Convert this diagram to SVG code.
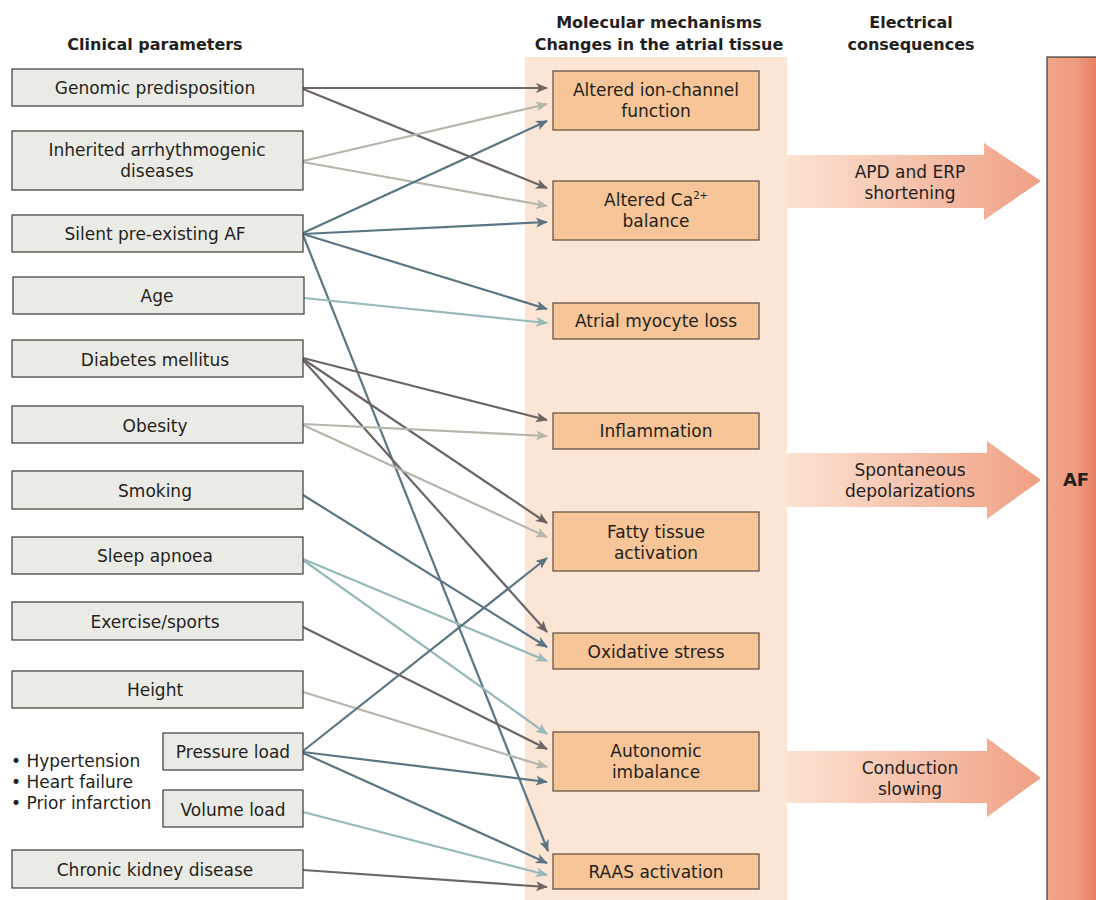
<svg xmlns="http://www.w3.org/2000/svg" width="1096" height="900" viewBox="0 0 1096 900">
<defs>
<style>
text{font-family:"DejaVu Sans","Open Sans","Liberation Sans",sans-serif;fill:#231f20;}
.h{font-size:16px;font-weight:700;text-anchor:middle;}
.t{font-size:17px;text-anchor:middle;}
.b{font-size:17px;}
.lb{fill:#ebebe6;stroke:#3a3a3a;stroke-width:1.2;}
.mb{fill:#f7c597;stroke:#5a4a3c;stroke-width:1.2;}
.c{fill:none;stroke-width:2.2;}
.k{stroke:#6d6565;marker-end:url(#ak);}
.g{stroke:#b4b7aa;marker-end:url(#ag);}
.s{stroke:#5b7583;marker-end:url(#as);}
.q{stroke:#98b9bc;marker-end:url(#aq);}
</style>
<marker id="ak" viewBox="0 0 12 10" refX="11" refY="5" markerWidth="12" markerHeight="10" markerUnits="userSpaceOnUse" orient="auto"><path d="M0,0 L12,5 L0,10 L3,5 Z" fill="#6d6565"/></marker>
<marker id="ag" viewBox="0 0 12 10" refX="11" refY="5" markerWidth="12" markerHeight="10" markerUnits="userSpaceOnUse" orient="auto"><path d="M0,0 L12,5 L0,10 L3,5 Z" fill="#b4b7aa"/></marker>
<marker id="as" viewBox="0 0 12 10" refX="11" refY="5" markerWidth="12" markerHeight="10" markerUnits="userSpaceOnUse" orient="auto"><path d="M0,0 L12,5 L0,10 L3,5 Z" fill="#5b7583"/></marker>
<marker id="aq" viewBox="0 0 12 10" refX="11" refY="5" markerWidth="12" markerHeight="10" markerUnits="userSpaceOnUse" orient="auto"><path d="M0,0 L12,5 L0,10 L3,5 Z" fill="#98b9bc"/></marker>
<linearGradient id="eg" gradientUnits="userSpaceOnUse" x1="787" y1="0" x2="1041" y2="0">
<stop offset="0" stop-color="#fbe3d2"/>
<stop offset="1" stop-color="#f0a085"/>
</linearGradient>
<linearGradient id="afg" x1="0" y1="0" x2="1" y2="0">
<stop offset="0" stop-color="#f1a68b"/>
<stop offset="0.6" stop-color="#ef9a7d"/>
<stop offset="1" stop-color="#e8795c"/>
</linearGradient>
</defs>
<rect width="1096" height="900" fill="#ffffff"/>

<g id="panel">
<rect x="525" y="57" width="262" height="843" fill="#fbe5d4"/>
</g>

<g id="headers">
<text class="h" x="155" y="50">Clinical parameters</text>
<text class="h" x="659" y="28">Molecular mechanisms<tspan x="659" dy="22">Changes in the atrial tissue</tspan></text>
<text class="h" x="911" y="28">Electrical<tspan x="911" dy="22">consequences</tspan></text>
</g>

<g id="electrical">
<g id="e-apd">
<path d="M787,155 L984,155 L984,143 L1041,181 L984,220 L984,208 L787,208 Z" fill="url(#eg)"/>
<text class="t" x="910" y="178">APD and ERP<tspan x="910" dy="21">shortening</tspan></text>
</g>
<g id="e-spont">
<path d="M787,453 L987,453 L987,441 L1041,480 L987,519 L987,507 L787,507 Z" fill="url(#eg)"/>
<text class="t" x="910" y="476">Spontaneous<tspan x="910" dy="21">depolarizations</tspan></text>
</g>
<g id="e-cond">
<path d="M787,751 L987,751 L987,738 L1041,778 L987,817 L987,803 L787,803 Z" fill="url(#eg)"/>
<text class="t" x="910" y="774">Conduction<tspan x="910" dy="21">slowing</tspan></text>
</g>
</g>

<g id="af">
<rect x="1047" y="57" width="52" height="846" fill="url(#afg)" stroke="#3a3a3a" stroke-width="1.2"/>
<text x="1076" y="486" style="font-size:18px;font-weight:700;text-anchor:middle;">AF</text>
</g>

<g id="connectors">
<line class="c k" x1="303" y1="88" x2="547" y2="88"/>
<line class="c k" x1="303" y1="89" x2="547" y2="188"/>
<line class="c g" x1="303" y1="161" x2="547" y2="104"/>
<line class="c g" x1="303" y1="162" x2="547" y2="206"/>
<line class="c s" x1="303" y1="233" x2="547" y2="121"/>
<line class="c s" x1="303" y1="234" x2="547" y2="222"/>
<line class="c s" x1="303" y1="234" x2="547" y2="309"/>
<line class="c s" x1="303" y1="235" x2="548" y2="851"/>
<line class="c q" x1="304" y1="298" x2="547" y2="323"/>
<line class="c k" x1="303" y1="358" x2="547" y2="420"/>
<line class="c k" x1="303" y1="359" x2="547" y2="523"/>
<line class="c k" x1="303" y1="360" x2="547" y2="632"/>
<line class="c g" x1="303" y1="424" x2="547" y2="436"/>
<line class="c g" x1="303" y1="425" x2="547" y2="537"/>
<line class="c s" x1="303" y1="495" x2="547" y2="647"/>
<line class="c q" x1="303" y1="559" x2="547" y2="661"/>
<line class="c q" x1="303" y1="560" x2="547" y2="734"/>
<line class="c k" x1="303" y1="627" x2="547" y2="749"/>
<line class="c g" x1="303" y1="692" x2="547" y2="767"/>
<line class="c s" x1="303" y1="751" x2="547" y2="558"/>
<line class="c s" x1="303" y1="752" x2="547" y2="782"/>
<line class="c s" x1="303" y1="753" x2="547" y2="863"/>
<line class="c q" x1="303" y1="812" x2="547" y2="875"/>
<line class="c k" x1="303" y1="870" x2="547" y2="887"/>
</g>

<g id="clinical">
<g id="n-genomic"><rect class="lb" x="12" y="69" width="291" height="37"/><text class="t" x="155" y="94">Genomic predisposition</text></g>
<g id="n-inherited"><rect class="lb" x="12" y="131" width="291" height="59"/><text class="t" x="157" y="156">Inherited arrhythmogenic<tspan x="157" dy="21">diseases</tspan></text></g>
<g id="n-silent"><rect class="lb" x="12" y="215" width="291" height="37"/><text class="t" x="155" y="240">Silent pre-existing AF</text></g>
<g id="n-age"><rect class="lb" x="13" y="277" width="291" height="37"/><text class="t" x="157" y="302">Age</text></g>
<g id="n-diabetes"><rect class="lb" x="12" y="340" width="291" height="37"/><text class="t" x="155" y="366">Diabetes mellitus</text></g>
<g id="n-obesity"><rect class="lb" x="12" y="406" width="291" height="37"/><text class="t" x="155" y="432">Obesity</text></g>
<g id="n-smoking"><rect class="lb" x="12" y="471" width="291" height="38"/><text class="t" x="155" y="497">Smoking</text></g>
<g id="n-sleep"><rect class="lb" x="12" y="537" width="291" height="37"/><text class="t" x="155" y="562">Sleep apnoea</text></g>
<g id="n-exercise"><rect class="lb" x="12" y="602" width="291" height="38"/><text class="t" x="155" y="628">Exercise/sports</text></g>
<g id="n-height"><rect class="lb" x="12" y="671" width="291" height="37"/><text class="t" x="155" y="696">Height</text></g>
<g id="n-pressure"><rect class="lb" x="163" y="733" width="140" height="37"/><text class="t" x="233" y="758">Pressure load</text></g>
<g id="n-volume"><rect class="lb" x="163" y="790" width="140" height="37"/><text class="t" x="233" y="816">Volume load</text></g>
<g id="n-bullets">
<text class="b" x="11" y="767">• Hypertension<tspan x="11" dy="21">• Heart failure</tspan><tspan x="11" dy="21">• Prior infarction</tspan></text>
</g>
<g id="n-ckd"><rect class="lb" x="12" y="850" width="291" height="38"/><text class="t" x="155" y="876">Chronic kidney disease</text></g>
</g>

<g id="mechanisms">
<g id="m-ion"><rect class="mb" x="553" y="71" width="206" height="59"/><text class="t" x="656" y="96">Altered ion-channel<tspan x="656" dy="21">function</tspan></text></g>
<g id="m-ca"><rect class="mb" x="553" y="181" width="206" height="59"/><text class="t" x="656" y="206">Altered Ca<tspan dy="-7" style="font-size:10px">2+</tspan><tspan x="656" dy="28">balance</tspan></text></g>
<g id="m-myo"><rect class="mb" x="553" y="303" width="206" height="36"/><text class="t" x="656" y="327">Atrial myocyte loss</text></g>
<g id="m-infl"><rect class="mb" x="553" y="413" width="206" height="36"/><text class="t" x="656" y="437">Inflammation</text></g>
<g id="m-fatty"><rect class="mb" x="553" y="512" width="206" height="59"/><text class="t" x="656" y="538">Fatty tissue<tspan x="656" dy="21">activation</tspan></text></g>
<g id="m-ox"><rect class="mb" x="553" y="633" width="206" height="36"/><text class="t" x="656" y="658">Oxidative stress</text></g>
<g id="m-auto"><rect class="mb" x="553" y="732" width="206" height="59"/><text class="t" x="656" y="757">Autonomic<tspan x="656" dy="21">imbalance</tspan></text></g>
<g id="m-raas"><rect class="mb" x="553" y="854" width="206" height="35"/><text class="t" x="656" y="878">RAAS activation</text></g>
</g>
</svg>
